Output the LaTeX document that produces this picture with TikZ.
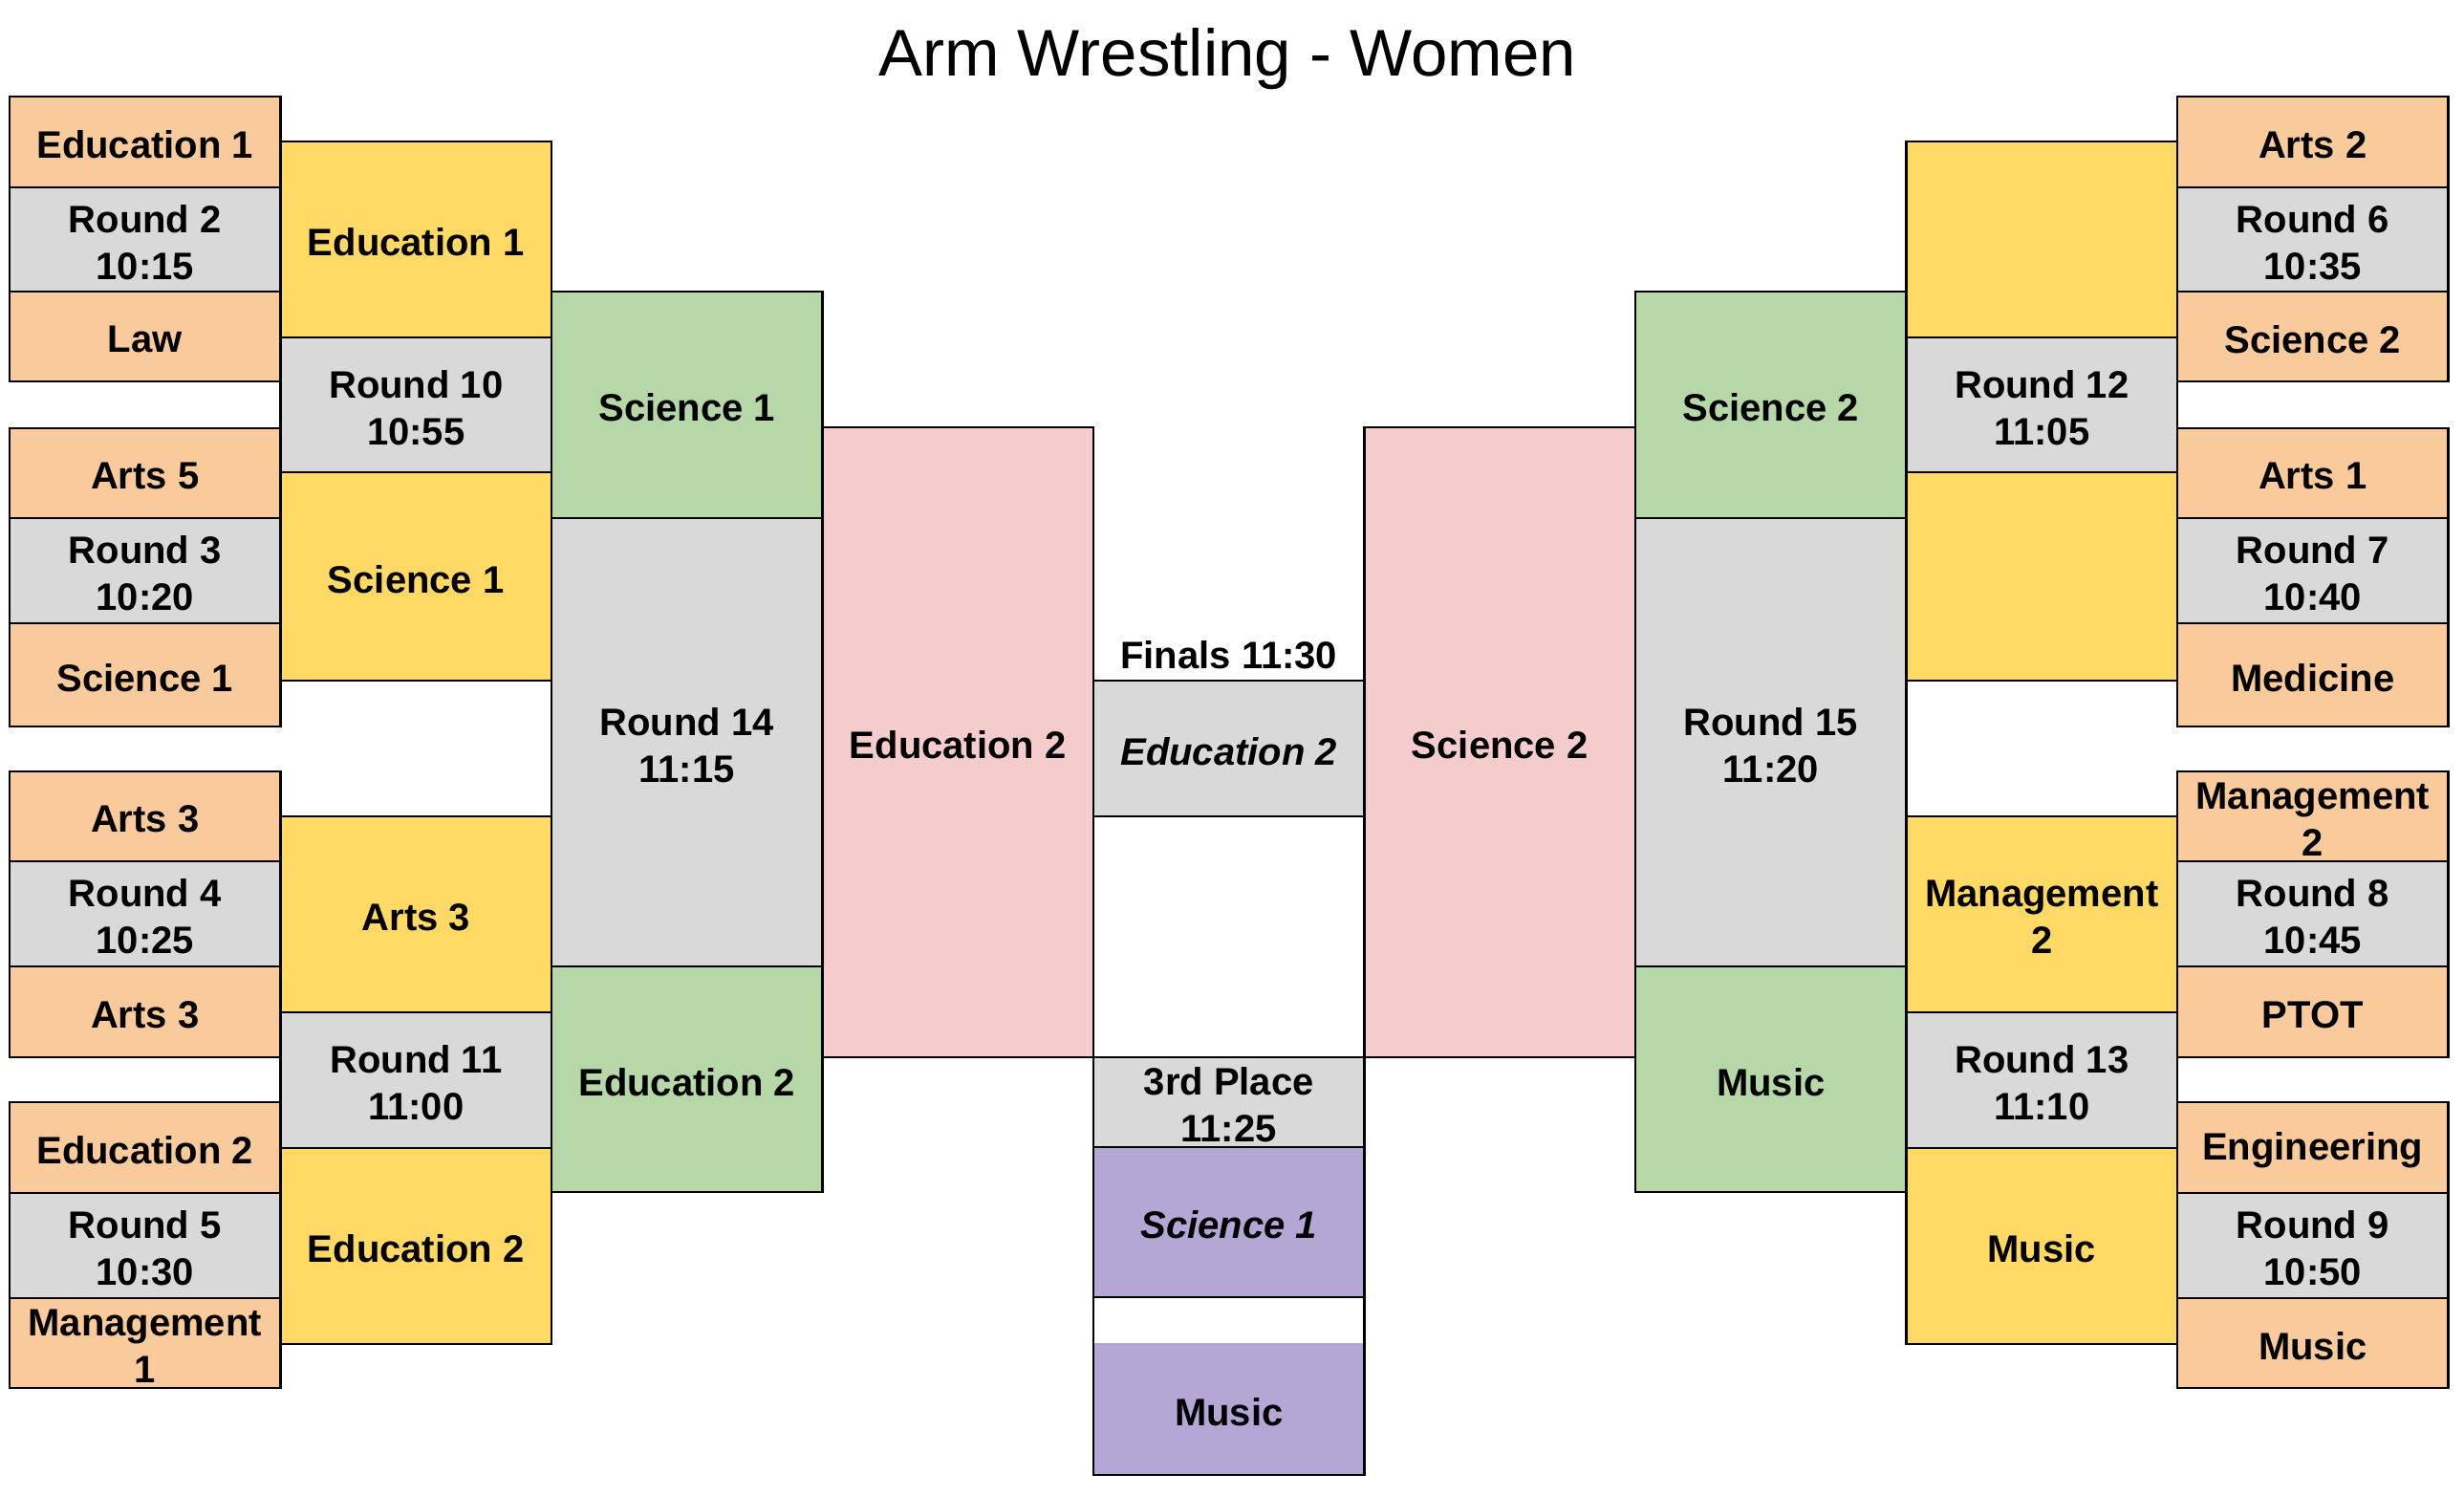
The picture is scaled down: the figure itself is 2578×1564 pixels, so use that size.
\documentclass[tikz,border=0pt]{standalone}
\usepackage{fontspec}
\setmainfont{Liberation Sans}
\definecolor{corange}{HTML}{F9CB9C}
\definecolor{cgray}{HTML}{D9D9D9}
\definecolor{cyellow}{HTML}{FFD966}
\definecolor{cgreen}{HTML}{B6D7A8}
\definecolor{cpink}{HTML}{F4CCCC}
\definecolor{cpurple}{HTML}{B4A7D6}
\newcommand\cellnode[6]{%
  \node[cell,#5,minimum height={((#4)-(#3))*1pt}] (#1) at (#2,{((#3)+(#4))/2}) {};
  \node[celltext,#5,fill=none,draw=none] (#1-text) at ([yshift=-3pt]#1.center) {#6};}
\begin{document}
\begin{tikzpicture}[x=1pt,y=-1pt,
  cell/.style={draw=black,line width=2.5pt,inner sep=0pt,outer sep=0pt,
    minimum width=283.5pt},
  celltext/.style={inner sep=0pt,align=center,text=black,font=\fontsize{40}{49}\selectfont\bfseries},
  orangecell/.style={fill=corange},
  graycell/.style={fill=cgray},
  yellowcell/.style={fill=cyellow},
  greencell/.style={fill=cgreen},
  pinkcell/.style={fill=cpink},
  purplecell/.style={fill=cpurple},
  italiccell/.style={font=\fontsize{40}{49}\selectfont\bfseries\itshape},
  titlelabel/.style={font=\fontsize{69}{80}\selectfont,text=black,inner sep=0pt},
  finalslabel/.style={font=\fontsize{40}{49}\selectfont\bfseries,text=black,inner sep=0pt}]
\useasboundingbox (0,0) rectangle (2578,1564);
\fill[white] (0,0) rectangle (2578,1564);
% title
\node[titlelabel,anchor=base] (title) at (1284,79) {Arm Wrestling - Women};
% ---------- left column 1 ----------
\cellnode{la1}{151.75}{101}{196}{orangecell}{Education 1}
\cellnode{la2}{151.75}{196}{305}{graycell}{Round 2\\10:15}
\cellnode{la3}{151.75}{305}{399}{orangecell}{Law}
\cellnode{lb1}{151.75}{448}{542}{orangecell}{Arts 5}
\cellnode{lb2}{151.75}{542}{652}{graycell}{Round 3\\10:20}
\cellnode{lb3}{151.75}{652}{760}{orangecell}{Science 1}
\cellnode{lc1}{151.75}{807}{901}{orangecell}{Arts 3}
\cellnode{lc2}{151.75}{901}{1011}{graycell}{Round 4\\10:25}
\cellnode{lc3}{151.75}{1011}{1106}{orangecell}{Arts 3}
\cellnode{ld1}{151.75}{1153}{1248}{orangecell}{Education 2}
\cellnode{ld2}{151.75}{1248}{1358}{graycell}{Round 5\\10:30}
\cellnode{ld3}{151.75}{1358}{1452}{orangecell}{Management\\1}
% ---------- left column 2 ----------
\cellnode{le1}{435.25}{148}{353}{yellowcell}{Education 1}
\cellnode{le2}{435.25}{353}{494}{graycell}{Round 10\\10:55}
\cellnode{le3}{435.25}{494}{712}{yellowcell}{Science 1}
\cellnode{lf1}{435.25}{854}{1059}{yellowcell}{Arts 3}
\cellnode{lf2}{435.25}{1059}{1201}{graycell}{Round 11\\11:00}
\cellnode{lf3}{435.25}{1201}{1406}{yellowcell}{Education 2}
% ---------- left column 3 ----------
\cellnode{lg1}{718.75}{305}{542}{greencell}{Science 1}
\cellnode{lg2}{718.75}{542}{1011}{graycell}{Round 14\\11:15}
\cellnode{lg3}{718.75}{1011}{1247}{greencell}{Education 2}
% ---------- left column 4 ----------
\cellnode{lh}{1002.25}{447}{1106}{pinkcell}{Education 2}
% ---------- centre ----------
\node[finalslabel,anchor=base] (finals) at (1285.75,699) {Finals 11:30};
\cellnode{fin}{1285.75}{712}{854}{graycell,italiccell}{Education 2}
\cellnode{third}{1285.75}{1106}{1200}{graycell}{3rd Place\\11:25}
\cellnode{thirdA}{1285.75}{1200}{1357}{purplecell,italiccell}{Science 1}
\cellnode{thirdB}{1285.75}{1405}{1543}{purplecell,draw=none}{Music}
\node[cell,fill=none,minimum height=186pt] (thirdframe) at (1285.75,1450) {};
% ---------- right column 4 ----------
\cellnode{rh}{1569.25}{447}{1106}{pinkcell}{Science 2}
% ---------- right column 3 ----------
\cellnode{rg1}{1852.75}{305}{542}{greencell}{Science 2}
\cellnode{rg2}{1852.75}{542}{1011}{graycell}{Round 15\\11:20}
\cellnode{rg3}{1852.75}{1011}{1247}{greencell}{Music}
% ---------- right column 2 ----------
\cellnode{re1}{2136.25}{148}{353}{yellowcell}{}
\cellnode{re2}{2136.25}{353}{494}{graycell}{Round 12\\11:05}
\cellnode{re3}{2136.25}{494}{712}{yellowcell}{}
\cellnode{rf1}{2136.25}{854}{1059}{yellowcell}{Management\\2}
\cellnode{rf2}{2136.25}{1059}{1201}{graycell}{Round 13\\11:10}
\cellnode{rf3}{2136.25}{1201}{1406}{yellowcell}{Music}
% ---------- right column 1 ----------
\cellnode{ra1}{2419.75}{101}{196}{orangecell}{Arts 2}
\cellnode{ra2}{2419.75}{196}{305}{graycell}{Round 6\\10:35}
\cellnode{ra3}{2419.75}{305}{399}{orangecell}{Science 2}
\cellnode{rb1}{2419.75}{448}{542}{orangecell}{Arts 1}
\cellnode{rb2}{2419.75}{542}{652}{graycell}{Round 7\\10:40}
\cellnode{rb3}{2419.75}{652}{760}{orangecell}{Medicine}
\cellnode{rc1}{2419.75}{807}{901}{orangecell}{Management\\2}
\cellnode{rc2}{2419.75}{901}{1011}{graycell}{Round 8\\10:45}
\cellnode{rc3}{2419.75}{1011}{1106}{orangecell}{PTOT}
\cellnode{rd1}{2419.75}{1153}{1248}{orangecell}{Engineering}
\cellnode{rd2}{2419.75}{1248}{1358}{graycell}{Round 9\\10:50}
\cellnode{rd3}{2419.75}{1358}{1452}{orangecell}{Music}
\end{tikzpicture}
\end{document}
